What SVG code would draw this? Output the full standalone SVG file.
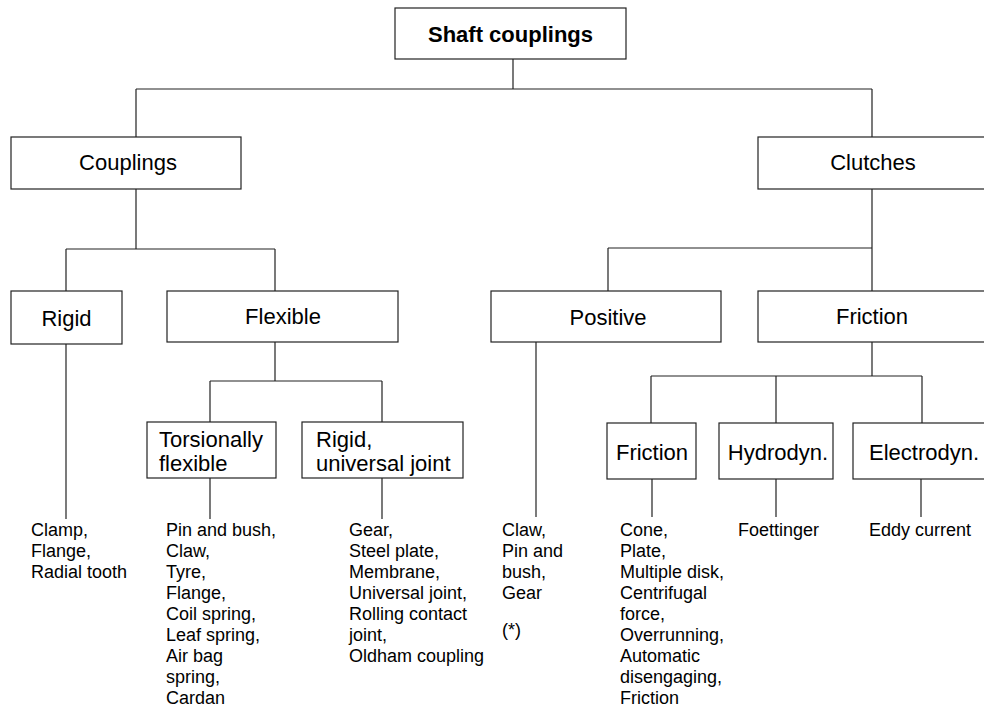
<svg xmlns="http://www.w3.org/2000/svg" width="984" height="708" viewBox="0 0 984 708">
  <style>
    .box { fill: #fff; stroke: #222; stroke-width: 1.2; }
    .wire { stroke: #222; stroke-width: 1.2; fill: none; }
    .lbl { font-family: "Liberation Sans", Arial, sans-serif; font-size: 22px; fill: #000; }
    .mid { text-anchor: middle; }
    .bold { font-weight: bold; }
    .list { font-family: "Liberation Sans", Arial, sans-serif; font-size: 18px; fill: #000; }
  </style>
  <rect width="984" height="708" fill="#fff"/>

  <!-- connectors -->
  <g id="connectors" class="wire">
    <path d="M513 59V89M136 89H872M136 89V137M872 89V137"/>
    <path d="M136 189V249M66 249H275M66 249V291M275 249V291"/>
    <path d="M66 344V519"/>
    <path d="M275 342V381M210 381H382M210 381V422M382 381V422"/>
    <path d="M210 478V519M382 478V519"/>
    <path d="M872 189V291M608 248H872M608 248V291"/>
    <path d="M536 342V517"/>
    <path d="M872 342V376M651 376H922M651 376V423M776 376V423M922 376V423"/>
    <path d="M652 479V517M776 479V517M921 479V517"/>
  </g>

  <g id="shaft-couplings">
    <rect class="box" x="395" y="8" width="231" height="51"/>
    <text class="lbl mid bold" x="510.5" y="42">Shaft couplings</text>
  </g>

  <g id="couplings">
    <rect class="box" x="11" y="137" width="230" height="52"/>
    <text class="lbl mid" x="128" y="170">Couplings</text>
  </g>

  <g id="clutches">
    <rect class="box" x="758" y="137" width="240" height="52"/>
    <text class="lbl mid" x="873" y="170">Clutches</text>
  </g>

  <g id="rigid">
    <rect class="box" x="11" y="291" width="111" height="53"/>
    <text class="lbl mid" x="66.5" y="326">Rigid</text>
  </g>

  <g id="flexible">
    <rect class="box" x="167" y="291" width="231" height="51"/>
    <text class="lbl mid" x="283" y="324">Flexible</text>
  </g>

  <g id="positive">
    <rect class="box" x="491" y="291" width="230" height="51"/>
    <text class="lbl mid" x="608" y="325">Positive</text>
  </g>

  <g id="friction-clutches">
    <rect class="box" x="758" y="291" width="240" height="51"/>
    <text class="lbl mid" x="872" y="324">Friction</text>
  </g>

  <g id="torsionally-flexible">
    <rect class="box" x="147" y="422" width="129" height="56"/>
    <text class="lbl" x="159" y="447">Torsionally</text>
    <text class="lbl" x="159" y="470.5">flexible</text>
  </g>

  <g id="rigid-universal-joint">
    <rect class="box" x="302" y="422" width="161" height="56"/>
    <text class="lbl" x="316" y="447">Rigid,</text>
    <text class="lbl" x="316" y="470.5">universal joint</text>
  </g>

  <g id="friction">
    <rect class="box" x="607" y="423" width="89" height="56"/>
    <text class="lbl mid" x="652" y="460">Friction</text>
  </g>

  <g id="hydrodyn">
    <rect class="box" x="719" y="423" width="114" height="56"/>
    <text class="lbl mid" x="778" y="460">Hydrodyn.</text>
  </g>

  <g id="electrodyn">
    <rect class="box" x="853" y="423" width="140" height="56"/>
    <text class="lbl mid" x="924" y="460">Electrodyn.</text>
  </g>

  <!-- leaf lists -->
  <g id="rigid-types">
    <text class="list" x="31" y="536">Clamp,</text>
    <text class="list" x="31" y="557">Flange,</text>
    <text class="list" x="31" y="578">Radial tooth</text>
  </g>

  <g id="torsional-types">
    <text class="list" x="166" y="536">Pin and bush,</text>
    <text class="list" x="166" y="557">Claw,</text>
    <text class="list" x="166" y="578">Tyre,</text>
    <text class="list" x="166" y="599">Flange,</text>
    <text class="list" x="166" y="620">Coil spring,</text>
    <text class="list" x="166" y="641">Leaf spring,</text>
    <text class="list" x="166" y="662">Air bag</text>
    <text class="list" x="166" y="683">spring,</text>
    <text class="list" x="166" y="704">Cardan</text>
  </g>

  <g id="universal-types">
    <text class="list" x="349" y="536">Gear,</text>
    <text class="list" x="349" y="557">Steel plate,</text>
    <text class="list" x="349" y="578">Membrane,</text>
    <text class="list" x="349" y="599">Universal joint,</text>
    <text class="list" x="349" y="620">Rolling contact</text>
    <text class="list" x="349" y="641">joint,</text>
    <text class="list" x="349" y="662">Oldham coupling</text>
  </g>

  <g id="positive-types">
    <text class="list" x="502" y="536">Claw,</text>
    <text class="list" x="502" y="557">Pin and</text>
    <text class="list" x="502" y="578">bush,</text>
    <text class="list" x="502" y="599">Gear</text>
    <text class="list" x="502" y="636">(*)</text>
  </g>

  <g id="friction-types">
    <text class="list" x="620" y="536">Cone,</text>
    <text class="list" x="620" y="557">Plate,</text>
    <text class="list" x="620" y="578">Multiple disk,</text>
    <text class="list" x="620" y="599">Centrifugal</text>
    <text class="list" x="620" y="620">force,</text>
    <text class="list" x="620" y="641">Overrunning,</text>
    <text class="list" x="620" y="662">Automatic</text>
    <text class="list" x="620" y="683">disengaging,</text>
    <text class="list" x="620" y="704">Friction</text>
  </g>

  <g id="hydrodyn-types">
    <text class="list" x="738" y="536">Foettinger</text>
  </g>

  <g id="electrodyn-types">
    <text class="list" x="869" y="536">Eddy current</text>
  </g>
</svg>
